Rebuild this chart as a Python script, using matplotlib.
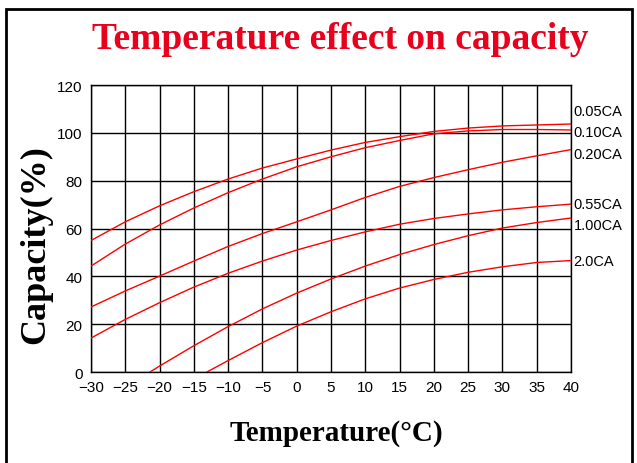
import matplotlib.pyplot as plt
from matplotlib.patches import Rectangle

# temperatura (°C) y capacidad (%)
temp = [-30, -25, -20, -15, -10, -5, 0, 5, 10, 15, 20, 25, 30, 35, 40]
c005 = [55.0, 62.8, 69.5, 75.4, 80.7, 85.3, 89.1, 92.8, 96.0, 98.4, 100.6, 102.0, 102.9, 103.3, 103.7]
c010 = [44.3, 53.5, 61.5, 68.6, 75.0, 80.7, 85.8, 90.0, 93.8, 96.8, 99.6, 100.8, 101.4, 101.4, 101.2]
c020 = [27.2, 33.9, 40.1, 46.4, 52.5, 57.9, 62.8, 67.8, 73.0, 77.6, 81.3, 84.6, 87.7, 90.4, 93.0]
c055 = [14.2, 22.0, 29.0, 35.5, 41.3, 46.4, 51.0, 55.0, 58.6, 61.8, 64.2, 66.1, 67.8, 69.1, 70.2]

temp100 = [-21.4, -20, -15, -10, -5, 0, 5, 10, 15, 20, 25, 30, 35, 40]
c100 = [0, 2.5, 11.0, 19.0, 26.4, 33.0, 38.9, 44.3, 49.1, 53.3, 57.0, 60.2, 62.5, 64.4]

temp200 = [-13.1, -10, -5, 0, 5, 10, 15, 20, 25, 30, 35, 40]
c200 = [0, 4.8, 12.3, 19.2, 25.2, 30.6, 35.1, 38.7, 41.7, 44.0, 45.8, 46.6]

etiquetas = ["0.05CA", "0.10CA", "0.20CA", "0.55CA", "1.00CA", "2.0CA"]
pos_etiquetas = [109.1, 100.3, 91.1, 70.2, 61.5, 46.4]

xticks = list(range(-30, 41, 5))
yticks = list(range(0, 121, 20))

fig = plt.figure(figsize=(6.37, 4.64), dpi=100)
ax = fig.add_axes([0.1429, 0.1961, 0.7535, 0.6185])

for xs, ys in [(temp, c005), (temp, c010), (temp, c020), (temp, c055), (temp100, c100), (temp200, c200)]:
    ax.plot(xs, ys, color="red", lw=1.0, zorder=3)

ax.set_xlim(-30, 40)
ax.set_ylim(0, 120)
ax.set_xticks(xticks)
ax.set_yticks(yticks)
ax.grid(True, color="black", lw=1.0)
ax.tick_params(length=0, pad=6, labelsize=11)
for lab in ax.get_xticklabels() + ax.get_yticklabels():
    lab.set_family(["Liberation Sans Narrow", "Liberation Sans"])
for s in ax.spines.values():
    s.set_color("black")
    s.set_linewidth(1.0)

for txt, yv in zip(etiquetas, pos_etiquetas):
    ax.text(40.4, yv, txt, fontsize=10.5, va="center", ha="left",
            family=["Liberation Sans Narrow", "Liberation Sans"], clip_on=False)

# titulo y ejes
fig.text(0.534, 0.915, "Temperature effect on capacity", color="#e8001c", fontsize=27,
         fontweight="bold", family="Liberation Serif", ha="center", va="center")
fig.text(0.528, 0.065, "Temperature(°C)", fontsize=21, fontweight="bold",
         family="Liberation Serif", ha="center", va="center")
fig.text(0.056, 0.472, "Capacity(%)", fontsize=26, fontweight="bold",
         family="Liberation Serif", ha="center", va="center", rotation=90)

# marco exterior
fig.patches.append(Rectangle((6 / 637, -0.05), 626 / 637, 1.05 - 10 / 464,
                             transform=fig.transFigure, fill=False, lw=2, ec="black"))

fig.savefig("out.png", dpi=100)
